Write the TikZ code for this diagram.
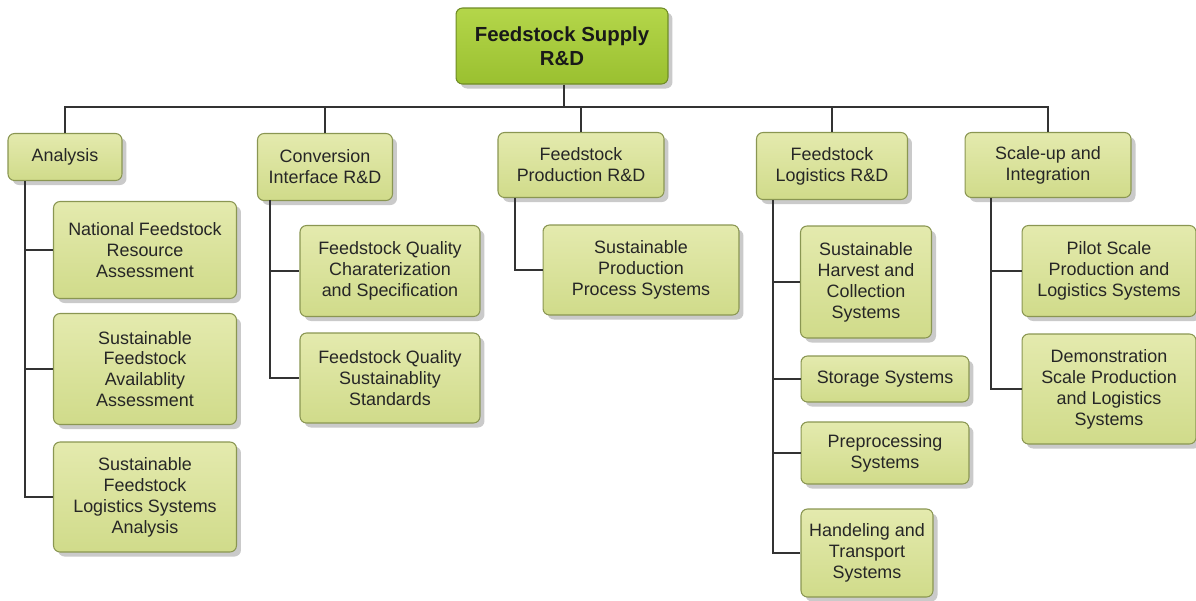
\documentclass[tikz,border=0pt]{standalone}
\usepackage{fontspec}
\setmainfont{Liberation Sans}
\usetikzlibrary{shadows}

\definecolor{boxtop}{HTML}{E4EAAE}
\definecolor{boxbot}{HTML}{D0DB8A}
\definecolor{boxline}{HTML}{8A9652}
\definecolor{rootop}{HTML}{B4D64A}
\definecolor{roobot}{HTML}{9AC030}
\definecolor{rooline}{HTML}{6F8C26}
\definecolor{wire}{HTML}{333333}

\tikzset{
  box/.style={draw=boxline, line width=0.6pt, rounded corners=0.13cm,
    top color=boxtop, bottom color=boxbot, align=center, inner sep=0pt,
    text=black!85, font=\fontsize{10.2}{11.9}\selectfont,
    drop shadow={shadow xshift=0.09cm, shadow yshift=-0.09cm, opacity=0.35, fill=black!60}},
  rootbox/.style={box, draw=rooline, top color=rootop, bottom color=roobot,
    text=black!90, font=\bfseries\fontsize{11.6}{13.6}\selectfont},
  wire/.style={draw=wire, line width=0.9pt}
}

\begin{document}
\begin{tikzpicture}[x=0.02cm, y=-0.02cm]
		%%%%% START %%%%%
		\useasboundingbox (0, 0) rectangle (1196, 600);
		
		\coordinate (bus) at (564, 107);
		\coordinate (ta) at (25, 181);
		\coordinate (tc) at (270, 200);
		\coordinate (tp) at (515, 198);
		\coordinate (tl) at (773, 200);
		\coordinate (ts) at (991, 198);
		
		% main level
		\node[rootbox, minimum width=4.24cm, minimum height=1.52cm] (root) at (562, 46) {Feedstock Supply\\R\&D};
		\node[box, minimum width=2.28cm, minimum height=0.94cm] (ana) at (65, 157) {Analysis};
		\node[box, minimum width=2.70cm, minimum height=1.34cm] (conv) at (325, 167) {Conversion\\Interface R\&D};
		\node[box, minimum width=3.32cm, minimum height=1.30cm] (prod) at (581, 165) {Feedstock\\Production R\&D};
		\node[box, minimum width=3.02cm, minimum height=1.34cm] (logi) at (832, 166) {Feedstock\\Logistics R\&D};
		\node[box, minimum width=3.32cm, minimum height=1.30cm] (scal) at (1048, 165) {Scale-up and\\Integration};
		
		% analysis
		\node[box, minimum width=3.66cm, minimum height=1.94cm] (nfra) at (145, 250) {National Feedstock\\Resource\\Assessment};
		\node[box, minimum width=3.66cm, minimum height=2.22cm] (sfaa) at (145, 369) {Sustainable\\Feedstock\\Availablity\\Assessment};
		\node[box, minimum width=3.66cm, minimum height=2.20cm] (sfls) at (145, 497) {Sustainable\\Feedstock\\Logistics Systems\\Analysis};
		
		% conversion interface
		\node[box, minimum width=3.60cm, minimum height=1.82cm] (fqcs) at (390, 271) {Feedstock Quality\\Charaterization\\and Specification};
		\node[box, minimum width=3.60cm, minimum height=1.80cm] (fqss) at (390, 378) {Feedstock Quality\\Sustainablity\\Standards};
		
		% production
		\node[box, minimum width=3.92cm, minimum height=1.80cm] (spps) at (641, 270) {Sustainable\\Production\\Process Systems};
		
		% logistics
		\node[box, minimum width=2.62cm, minimum height=2.24cm] (shcs) at (866, 282) {Sustainable\\Harvest and\\Collection\\Systems};
		\node[box, minimum width=3.36cm, minimum height=0.92cm] (stor) at (885, 379) {Storage Systems};
		\node[box, minimum width=3.36cm, minimum height=1.24cm] (prep) at (885, 453) {Preprocessing\\Systems};
		\node[box, minimum width=2.64cm, minimum height=1.76cm] (hand) at (867, 553) {Handeling and\\Transport\\Systems};
		
		% scale-up
		\node[box, minimum width=3.48cm, minimum height=1.82cm] (pilo) at (1109, 271) {Pilot Scale\\Production and\\Logistics Systems};
		\node[box, minimum width=3.48cm, minimum height=2.20cm] (demo) at (1109, 389) {Demonstration\\Scale Production\\and Logistics\\Systems};
		
		% bus
		\draw[wire] (root.south -| bus) -- (bus);
		\draw[wire] (ana.north) |- (bus -| scal.north) -- (scal.north);
		\draw[wire] (conv.north) -- (conv.north |- bus);
		\draw[wire] (prod.north) -- (prod.north |- bus);
		\draw[wire] (logi.north) -- (logi.north |- bus);
		
		% trunks
		\draw[wire] (ta) |- (sfls.west);
		\draw[wire] (ta |- nfra.west) -- (nfra.west);
		\draw[wire] (ta |- sfaa.west) -- (sfaa.west);
		
		\draw[wire] (tc) |- (fqss.west);
		\draw[wire] (tc |- fqcs.west) -- (fqcs.west);
		
		\draw[wire] (tp) |- (spps.west);
		
		\draw[wire] (tl) |- (hand.west);
		\draw[wire] (tl |- shcs.west) -- (shcs.west);
		\draw[wire] (tl |- stor.west) -- (stor.west);
		\draw[wire] (tl |- prep.west) -- (prep.west);
		
		\draw[wire] (ts) |- (demo.west);
		\draw[wire] (ts |- pilo.west) -- (pilo.west);
		
		%%%%% END %%%%%
	\end{tikzpicture}
\end{document}
